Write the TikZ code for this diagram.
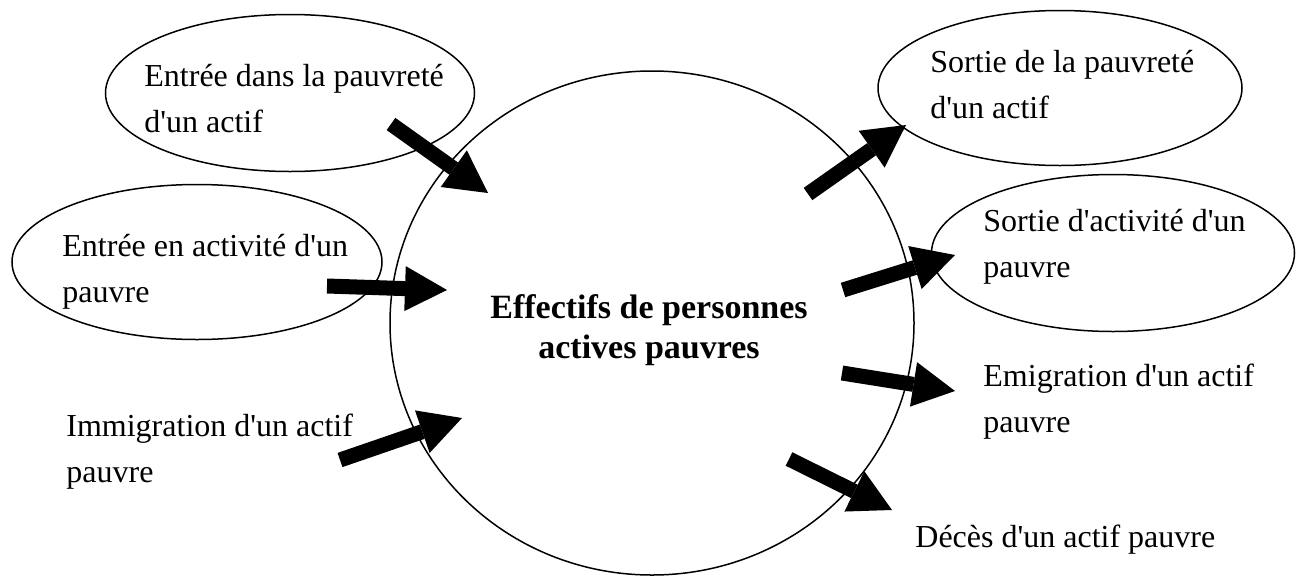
\documentclass[tikz,border=0pt]{standalone}
\usepackage{fontspec}
\setmainfont{Liberation Serif}[Ligatures=TeXOff]
\usetikzlibrary{arrows.meta, shapes.geometric}
\tikzset{
  bulle/.style = {draw, ellipse, line width=0.75pt, inner sep=0pt},
  txt/.style   = {font=\fontsize{16}{23}\selectfont, align=left,
                  anchor=base west, inner sep=0pt},
  flux/.style  = {-{Triangle[length=21pt, width=22.5pt, line width=0pt]},
                  line width=7.5pt},
}

\begin{document}
\begin{tikzpicture}[x=0.5pt, y=-0.5pt]
\useasboundingbox (0,0) rectangle (1312,579);

% ---- Stock central ----------------------------------------------------------
\node[bulle, minimum width=262pt, minimum height=252pt] (stock) at (652,323) {};
\node[align=center, anchor=base, inner sep=0pt,
      font=\fontsize{17}{20}\selectfont\bfseries] (tStock) at (649,358)
  {Effectifs de personnes\\actives pauvres};

% ---- Bulles (entrees a gauche, sorties a droite) ----------------------------
\node[bulle, minimum width=184.5pt, minimum height=78.5pt] (entPauv)  at (290,93)  {};
\node[bulle, minimum width=185pt,   minimum height=77.5pt] (entAct)   at (197,262) {};
\node[bulle, minimum width=182pt,   minimum height=77.5pt] (sortPauv) at (1060,88) {};
\node[bulle, minimum width=181.5pt, minimum height=78.5pt] (sortAct)  at (1113,253) {};

% ---- Textes (ancre = ligne de base de la derniere ligne) --------------------
\node[txt] (tEntPauv)  at (144,132) {Entrée dans la pauvreté\\d'un actif};
\node[txt] (tEntAct)   at (62,302)  {Entrée en activité d'un\\pauvre};
\node[txt] (tImmig)    at (66,482)  {Immigration d'un actif\\pauvre};
\node[txt] (tSortPauv) at (930,118) {Sortie de la pauvreté\\d'un actif};
\node[txt] (tSortAct)  at (983,277) {Sortie d'activité d'un\\pauvre};
\node[txt] (tEmig)     at (983,432) {Emigration d'un actif\\pauvre};
\node[txt] (tDeces)    at (915,547) {Décès d'un actif pauvre};

% ---- Flux -------------------------------------------------------------------
\coordinate (a1s) at (391,124); \coordinate (a1e) at (488,193);
\coordinate (a2s) at (327,286); \coordinate (a2e) at (447,290);
\coordinate (a3s) at (340,460); \coordinate (a3e) at (462,418);
\coordinate (a4s) at (808,194); \coordinate (a4e) at (906,125);
\coordinate (a5s) at (843,290); \coordinate (a5e) at (955,255);
\coordinate (a6s) at (842,373); \coordinate (a6e) at (955,391);
\coordinate (a7s) at (789,459); \coordinate (a7e) at (892,510);

\foreach \i in {1,...,7}
  \draw[flux] (a\i s) -- (a\i e);

\end{tikzpicture}
\end{document}
